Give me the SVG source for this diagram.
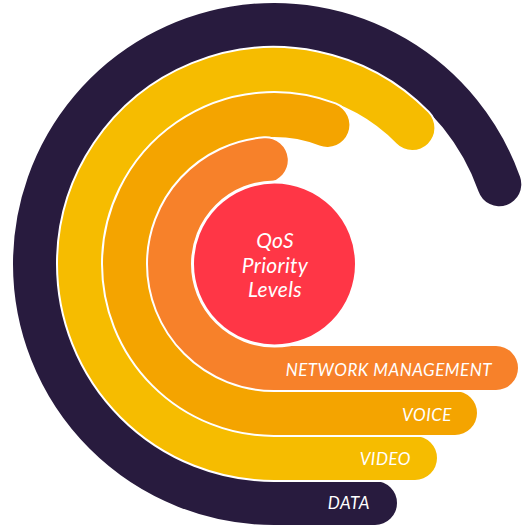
<svg xmlns="http://www.w3.org/2000/svg" width="523" height="528" viewBox="0 0 523 528">
  <style>
    .halo { fill: none; stroke: #ffffff; stroke-width: 48; stroke-linecap: round; stroke-linejoin: round; }
    .band { fill: none; stroke-width: 44; stroke-linecap: round; stroke-linejoin: round; }
    .lbl { font-family: Lato, "Open Sans", "Liberation Sans", sans-serif; font-style: italic; fill: #ffffff; font-size: 17px; letter-spacing: 0.5px; text-anchor: end; }
    .core { font-family: Lato, "Open Sans", "Liberation Sans", sans-serif; font-style: italic; fill: #ffffff; font-size: 21px; letter-spacing: 0.3px; text-anchor: middle; }
  </style>
  <rect width="523" height="528" fill="#ffffff"/>
  <g id="data">
    <path class="halo" d="M 499.3 184.2 A 239 239 0 0 0 35 264 A 239 239 0 0 0 274 503 L 375 503"/>
    <path class="band" stroke="#281B3E" d="M 499.3 184.2 A 239 239 0 0 0 35 264 A 239 239 0 0 0 274 503 L 375 503"/>
    <text class="lbl" x="370" y="509">DATA</text>
  </g>
  <g id="video">
    <path class="halo" d="M 412.4 128 A 194 194 0 0 0 80 264 A 194 194 0 0 0 274 458 L 415 458"/>
    <path class="band" stroke="#F6BC00" d="M 412.4 128 A 194 194 0 0 0 80 264 A 194 194 0 0 0 274 458 L 415 458"/>
    <text class="lbl" x="411" y="465">VIDEO</text>
  </g>
  <g id="voice">
    <path class="halo" d="M 327.4 124.9 A 149 149 0 0 0 125 264 A 149 149 0 0 0 274 413 L 455 413"/>
    <path class="band" stroke="#F4A400" d="M 327.4 124.9 A 149 149 0 0 0 125 264 A 149 149 0 0 0 274 413 L 455 413"/>
    <text class="lbl" x="452" y="421">VOICE</text>
  </g>
  <g id="network-management">
    <path class="halo" d="M 265.8 160.3 A 104 104 0 0 0 170 264 A 104 104 0 0 0 274 368 L 496 368"/>
    <path class="band" stroke="#F7812A" d="M 265.8 160.3 A 104 104 0 0 0 170 264 A 104 104 0 0 0 274 368 L 496 368"/>
    <text class="lbl" x="492" y="376">NETWORK MANAGEMENT</text>
  </g>
  <g id="qos-priority-levels">
    <circle cx="274.5" cy="264" r="82" fill="#FF3646" stroke="#ffffff" stroke-width="3"/>
    <text class="core" x="275" y="248">QoS</text>
    <text class="core" x="275" y="273">Priority</text>
    <text class="core" x="275" y="297">Levels</text>
  </g>
</svg>
